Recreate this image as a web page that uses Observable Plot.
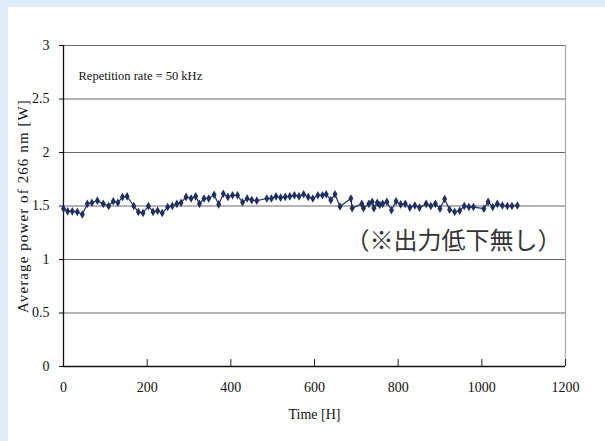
<!DOCTYPE html>
<html>
<head>
<meta charset="utf-8">
<script src="https://cdn.jsdelivr.net/npm/d3@7"></script>
<script src="https://cdn.jsdelivr.net/npm/@observablehq/plot@0.6"></script>
<style>
  html, body { margin: 0; padding: 0; }
  body { width: 605px; height: 441px; background: #ddeef9; position: relative; overflow: hidden; }
  #panel { position: absolute; left: 8px; top: 7px; width: 597px; height: 434px; background: #fff; }
</style>
</head>
<body>
<div id="panel"></div>
<script>
const hours = [0, 10, 21, 33, 45, 57, 68, 81, 95, 108, 119, 130, 141, 152, 168, 179, 190, 203, 214, 225,
  236, 249, 260, 271, 281, 293, 305, 316, 325, 336, 347, 360, 371, 382, 393, 404, 416, 428, 439, 450,
  462, 486, 497, 508, 519, 530, 541, 552, 563, 574, 585, 596, 608, 619, 628, 639, 649, 661, 687, 690,
  713, 717, 730, 738, 742, 750, 756, 763, 773, 784, 795, 806, 817, 828, 840, 851, 867, 878, 889, 900,
  911, 923, 935, 947, 958, 969, 980, 1005, 1015, 1026, 1037, 1049, 1061, 1072, 1085];
const power = [1.475, 1.45, 1.45, 1.445, 1.42, 1.52, 1.53, 1.55, 1.52, 1.50, 1.545, 1.53, 1.585, 1.59, 1.50, 1.445, 1.435, 1.50, 1.445, 1.455,
  1.435, 1.49, 1.50, 1.52, 1.53, 1.585, 1.57, 1.59, 1.52, 1.57, 1.57, 1.605, 1.515, 1.615, 1.585, 1.60, 1.60, 1.535, 1.57, 1.555,
  1.55, 1.57, 1.57, 1.59, 1.578, 1.585, 1.59, 1.60, 1.59, 1.61, 1.585, 1.57, 1.60, 1.60, 1.61, 1.555, 1.61, 1.495, 1.57, 1.48,
  1.52, 1.48, 1.52, 1.54, 1.48, 1.53, 1.51, 1.52, 1.54, 1.46, 1.545, 1.515, 1.52, 1.485, 1.505, 1.485, 1.52, 1.50, 1.52, 1.475,
  1.565, 1.465, 1.445, 1.455, 1.50, 1.49, 1.49, 1.475, 1.54, 1.49, 1.52, 1.505, 1.50, 1.50, 1.505];
const xTicks = [0, 200, 400, 600, 800, 1000, 1200];
const yTicks = [0, 0.5, 1, 1.5, 2, 2.5, 3];
const xLabel = "Time [H]";
const yLabel = "Average power of 266 nm [W]";
const noteLabel = "Repetition rate = 50 kHz";
const jpNote = "（※出力低下無し）";

const data = hours.map((h, i) => ({h, p: power[i]}));
const navy = "#1e2f66";

const chart = Plot.plot({
  width: 597,
  height: 434,
  marginLeft: 55,
  marginRight: 40,
  marginTop: 38,
  marginBottom: 75,
  style: {background: "transparent", fontFamily: "'Liberation Serif', serif", fontSize: "14px", color: "#111"},
  x: {domain: [0, 1200]},
  y: {domain: [0, 3]},
  marks: [
    Plot.ruleY(yTicks.filter(d => d > 0), {stroke: "#6a6a6a", strokeWidth: 1.2}),
    Plot.ruleX([1200], {stroke: "#a8a8a8", strokeWidth: 1.2}),
    Plot.ruleX(xTicks, {y1: 0, y2: 0.065, stroke: "#222", strokeWidth: 1}),
    Plot.ruleY([0], {stroke: "#111", strokeWidth: 1.3}),
    Plot.ruleX([0], {stroke: "#111", strokeWidth: 1.3}),
    Plot.axisY({ticks: yTicks, tickSize: 4, tickPadding: 10, tickFormat: d => String(d), fontSize: 14, label: null}),
    Plot.axisX({ticks: xTicks, tickSize: 0, tickPadding: 16, label: null, tickFormat: d => String(d), fontSize: 14}),
    Plot.text([yLabel], {frameAnchor: "left", dx: -40, rotate: -90, textAnchor: "middle", lineAnchor: "middle", fontSize: 15, fill: "#111"}),
    Plot.text([xLabel], {frameAnchor: "bottom", dy: 48, lineAnchor: "middle", fontSize: 14, fill: "#111"}),
    Plot.text([noteLabel], {frameAnchor: "top-left", dx: 15, dy: 30, textAnchor: "start", lineAnchor: "middle", fontSize: 12.5, fill: "#111"}),
    Plot.text([jpNote], {frameAnchor: "top-right", dx: -4, dy: 196, textAnchor: "end", lineAnchor: "middle", fontSize: 24, fill: "#333", fontFamily: "'Noto Sans CJK JP', sans-serif"}),
    Plot.line(data, {x: "h", y: "p", stroke: navy, strokeWidth: 1.2}),
    Plot.dot(data, {x: "h", y: "p", symbol: "diamond", r: 2.6, fill: navy, stroke: "none"})
  ]
});
d3.select(chart).selectAll("text").filter(function () { return this.textContent === yLabel; })
  .style("letter-spacing", "1.1px");
document.getElementById("panel").appendChild(chart);
</script>
</body>
</html>
